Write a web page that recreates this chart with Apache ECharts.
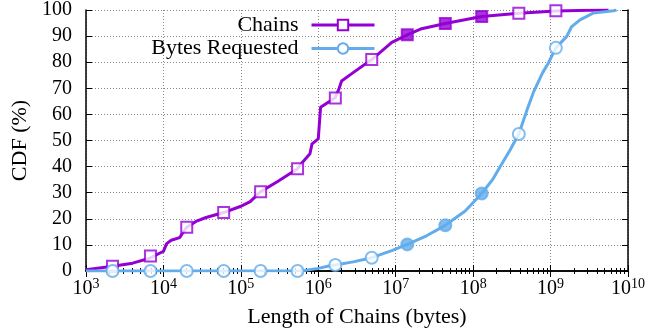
<!DOCTYPE html>
<html><head><meta charset="utf-8">
<script src="https://cdn.jsdelivr.net/npm/echarts@6/dist/echarts.min.js"></script>
<style>html,body{margin:0;padding:0;background:#fff}#c{width:649px;height:333px}</style>
</head><body><div id="c"></div>
<script>
// Chains CDF (x = bytes, y = %)
const chainsX = [1e3, 2.2e3, 4.0e3, 6.8e3, 8.9e3, 1.0e4, 1.1e4, 1.26e4, 1.62e4, 1.86e4, 2.0e4, 2.63e4, 3.55e4, 6.0e4, 9.8e4, 1.32e5, 1.8e5, 2.95e5, 5.4e5, 6.3e5, 7.8e5, 8.3e5, 1.0e6, 1.07e6, 1.41e6, 1.66e6, 1.86e6, 2.0e6, 2.82e6, 4.9e6, 8.9e6, 1.41e7, 2.09e7, 4.37e7, 1.29e8, 3.89e8, 1.17e9, 3.16e9, 5.6e9];
const chainsY = [0.5, 1.8, 3.0, 5.0, 6.8, 7.5, 10.5, 11.8, 12.8, 15.5, 16.8, 19.0, 20.5, 22.4, 24.7, 26.6, 30.4, 34.2, 39.2, 41.8, 44.9, 48.7, 50.6, 62.7, 65.0, 66.5, 70.0, 72.8, 76.0, 81.0, 87.6, 90.5, 92.7, 94.8, 97.5, 98.8, 99.6, 99.9, 100];
// Bytes Requested CDF
const bytesX = [1e3, 6.3e5, 1.0e6, 1.41e6, 1.66e6, 2.82e6, 4.9e6, 8.9e6, 1.41e7, 2.5e7, 4.37e7, 7.9e7, 1.29e8, 1.78e8, 2.24e8, 2.95e8, 3.89e8, 5.0e8, 6.0e8, 7.9e8, 9.3e8, 1.17e9, 1.62e9, 1.86e9, 2.4e9, 3.55e9, 6.5e9, 7.1e9];
const bytesY = [0, 0.1, 1.0, 2.0, 2.3, 3.5, 5.1, 7.8, 10.2, 13.5, 17.5, 23.0, 29.7, 35.0, 40.0, 46.0, 52.5, 62.0, 68.4, 76.0, 79.5, 85.5, 89.9, 93.5, 96.2, 98.8, 99.7, 100];
// marker points (every ~0.48 decade)
const markX = [2.2e3, 6.8e3, 2.0e4, 6.0e4, 1.8e5, 5.4e5, 1.66e6, 4.9e6, 1.41e7, 4.37e7, 1.29e8, 3.89e8, 1.17e9];
const chainsMarkY = [1.8, 5.7, 16.8, 22.4, 30.4, 39.2, 66.3, 81.0, 90.5, 94.8, 97.5, 98.8, 99.7];
const bytesMarkX = [2.2e3, 6.8e3, 2.0e4, 6.0e4, 1.8e5, 5.4e5, 1.66e6, 4.9e6, 1.41e7, 4.37e7, 1.29e8, 3.89e8, 1.17e9];
const bytesMarkY = [0, 0, 0, 0, 0, 0, 2.3, 5.1, 10.2, 17.5, 29.7, 52.5, 85.5];
const filledIdx = [8, 9, 10];
const yTicks = [0, 10, 20, 30, 40, 50, 60, 70, 80, 90, 100];

const PURPLE = '#9400D3', BLUE = '#63ACEB';
const FONT = 'Liberation Serif';
const zip = (xs, ys) => xs.map((x, i) => [x, ys[i]]);
const marks = (xs, ys, col) => xs.map((x, i) => ({
  value: [x, ys[i]],
  itemStyle: { color: filledIdx.includes(i) ? col : '#fff', borderColor: col, borderWidth: 2 }
}));

const chart = echarts.init(document.getElementById('c'), null, { renderer: 'canvas' });
const gridLine = { show: true, lineStyle: { color: '#888', type: [1, 2], width: 1 } };
chart.setOption({
  animation: false,
  grid: { left: 86, right: 21, top: 10, bottom: 60 },
  textStyle: { fontFamily: FONT },
  legend: {
    data: ['Chains', 'Bytes Requested'],
    orient: 'vertical', align: 'right',
    right: 268, top: 9, itemWidth: 63, itemHeight: 13, itemGap: 1.5,
    lineStyle: { width: 3 },
    textStyle: { fontFamily: FONT, fontSize: 22, color: '#000', padding: [0, 8, 0, 0] }
  },
  xAxis: [{
    type: 'log', logBase: 10, min: 1e3, max: 1e10,
    name: 'Length of Chains (bytes)', nameLocation: 'middle', nameGap: 35,
    nameTextStyle: { fontFamily: FONT, fontSize: 22, color: '#000' },
    axisLine: { onZero: false, lineStyle: { color: '#000', width: 1.5 } },
    axisTick: { inside: true, length: 6, lineStyle: { color: '#000' } },
    minorTick: { show: true, splitNumber: 9, length: 3, lineStyle: { color: '#000' } },
    splitLine: gridLine,
    axisLabel: {
      margin: 6, color: '#000',
      formatter: v => '{b|10}{s|' + Math.round(Math.log10(v)) + '}',
      rich: { b: { fontFamily: FONT, fontSize: 20, color: '#000' }, s: { fontFamily: FONT, fontSize: 14, color: '#000', verticalAlign: 'bottom', padding: [0, 0, 10, 0] } }
    }
  }, {
    type: 'log', logBase: 10, min: 1e3, max: 1e10, position: 'top',
    axisLine: { lineStyle: { color: '#000', width: 1.5 } },
    axisTick: { inside: true, length: 6, lineStyle: { color: '#000' } },
    minorTick: { show: true, splitNumber: 9, length: 3, lineStyle: { color: '#000' } },
    axisLabel: { show: false }, splitLine: { show: false }
  }],
  yAxis: [{
    type: 'value', min: 0, max: 100, interval: 10,
    name: 'CDF (%)', nameLocation: 'middle', nameGap: 54,
    nameTextStyle: { fontFamily: FONT, fontSize: 22, color: '#000' },
    axisLine: { show: true, lineStyle: { color: '#000', width: 1.5 } },
    axisTick: { show: true, inside: true, length: 6, lineStyle: { color: '#000' } },
    splitLine: gridLine,
    axisLabel: { margin: 14, fontFamily: FONT, fontSize: 20, color: '#000', formatter: v => yTicks.includes(v) ? String(v) : '' }
  }, {
    type: 'value', min: 0, max: 100, interval: 10, position: 'right',
    axisLine: { show: true, lineStyle: { color: '#000', width: 1.5 } },
    axisTick: { show: true, inside: true, length: 6, lineStyle: { color: '#000' } },
    axisLabel: { show: false }, splitLine: { show: false }
  }],
  series: [
    { name: 'Chains', type: 'line', data: zip(chainsX, chainsY), showSymbol: false, symbol: 'emptyRect',
      lineStyle: { color: PURPLE, width: 3 }, itemStyle: { color: PURPLE }, z: 3 },
    { name: 'chainsMarks', type: 'scatter', data: marks(markX, chainsMarkY, PURPLE), symbol: 'rect', symbolSize: 11, z: 4 },
    { name: 'Bytes Requested', type: 'line', data: zip(bytesX, bytesY), showSymbol: false, symbol: 'emptyCircle',
      lineStyle: { color: BLUE, width: 3 }, itemStyle: { color: BLUE }, z: 5 },
    { name: 'bytesMarks', type: 'scatter', data: marks(bytesMarkX, bytesMarkY, BLUE), symbol: 'circle', symbolSize: 12, z: 6 }
  ]
});
</script></body></html>
